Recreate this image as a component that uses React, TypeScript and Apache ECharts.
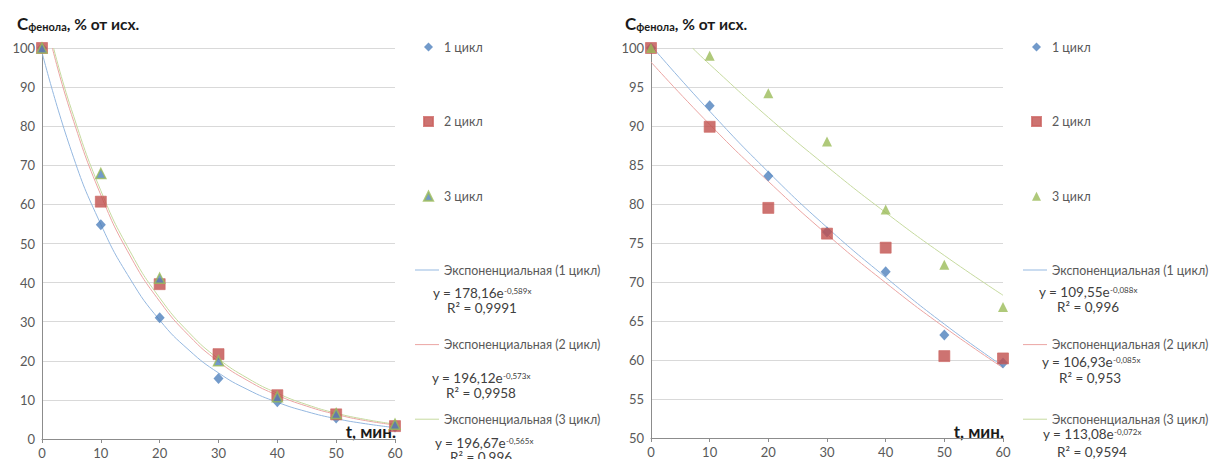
import React, { useEffect, useRef } from "react";
import * as echarts from "echarts";

// ---------- data ----------
const T = [0, 10, 20, 30, 40, 50, 60];
const SERIES_NAMES = ["1 цикл", "2 цикл", "3 цикл"];
const TREND_NAMES = ["Экспоненциальная (1 цикл)", "Экспоненциальная (2 цикл)", "Экспоненциальная (3 цикл)"];

// left chart measurements
const L_C1 = [100, 54.8, 31.0, 15.5, 9.5, 5.4, 3.1];
const L_C2 = [100, 60.7, 39.6, 21.7, 11.2, 6.3, 3.3];
const L_C3 = [100, 67.9, 41.1, 20.0, 10.8, 6.5, 3.8];
const L_TR1_T = [0, 5, 10, 15, 20, 25, 30, 35, 40, 45, 50, 55, 60];
const L_TR1_Y = [98.9, 73.6, 54.9, 40.9, 30.4, 22.7, 16.9, 12.6, 9.4, 7.0, 5.2, 3.9, 2.9];
const L_TR2_T = [1.76, 5, 10, 15, 20, 25, 30, 35, 40, 45, 50, 55, 60];
const L_TR2_Y = [100, 83.0, 62.4, 46.8, 35.2, 26.4, 19.8, 14.9, 11.2, 8.4, 6.3, 4.7, 3.6];
const L_TR3_T = [1.97, 5, 10, 15, 20, 25, 30, 35, 40, 45, 50, 55, 60];
const L_TR3_Y = [100, 84.3, 63.5, 47.9, 36.1, 27.2, 20.5, 15.5, 11.7, 8.8, 6.6, 5.0, 3.8];
const L_EQ = [
  ["y = 178,16e", "-0,589x", "R² = 0,9991"],
  ["y = 196,12e", "-0,573x", "R² = 0,9958"],
  ["y = 196,67e", "-0,565x", "R² = 0,996"],
];

// right chart measurements
const R_C1 = [100, 92.6, 83.6, 76.4, 71.3, 63.2, 59.6];
const R_C2 = [100, 89.9, 79.5, 76.2, 74.4, 60.5, 60.2];
const R_C3 = [100, 99.0, 94.2, 88.0, 79.3, 72.2, 66.8];
const R_TR1_T = [0.37, 10, 20, 30, 40, 50, 60];
const R_TR1_Y = [100, 91.9, 84.1, 77.0, 70.6, 64.6, 59.2];
const R_TR2_T = [0, 10, 20, 30, 40, 50, 60];
const R_TR2_Y = [98.2, 90.2, 82.9, 76.1, 69.9, 64.2, 59.0];
const R_TR3_T = [7.07, 10, 20, 30, 40, 50, 60];
const R_TR3_Y = [100, 97.9, 91.1, 84.8, 78.9, 73.4, 68.3];
const R_EQ = [
  ["y = 109,55e", "-0,088x", "R² = 0,996"],
  ["y = 106,93e", "-0,085x", "R² = 0,953"],
  ["y = 113,08e", "-0,072x", "R² = 0,9594"],
];

const X_NAME = "t, мин.";

// ---------- styling ----------
const FONT = 'Lato, "Open Sans", sans-serif';
const BLUE = "#4f81bd";
const RED = "#c0504d";
const GREEN = "#9bbb59";
const TR_BLUE = "#95b8e0";
const TR_RED = "#eba5a3";
const TR_GREEN = "#c6da9f";
const AXIS = "#8c8c8c";
const LABEL = "#595959";

type Cfg = {
  c: number[][];
  tr: [number[], number[]][];
  eq: string[][];
  yMin: number;
  yInterval: number;
  grid: { left: number; top: number; width: number; height: number };
  legendLeft: number;
  eqPos: [number, number, number, number][];
  xNamePos: [number, number];
  titleLeft: number;
  tri: { color: string; borderColor: string; borderWidth: number };
};

function pairs(xs: number[], ys: number[]) {
  return xs.map((x, i) => [x, ys[i]]);
}

function buildOption(cfg: Cfg): any {
  const markerStyles = [
    { symbol: "diamond", symbolSize: [10, 11], itemStyle: { color: BLUE } },
    { symbol: "rect", symbolSize: 11, itemStyle: { color: RED, borderColor: "#cc6461", borderWidth: 0.8 } },
    { symbol: "triangle", symbolSize: 10, itemStyle: cfg.tri },
  ];
  const trendColors = [TR_BLUE, TR_RED, TR_GREEN];
  const series: any[] = [];
  cfg.tr.forEach(([xs, ys], i) => {
    series.push({
      name: TREND_NAMES[i],
      type: "line",
      data: pairs(xs, ys),
      symbol: "none",
      showSymbol: false,
      smooth: 0.5,
      clip: true,
      silent: true,
      lineStyle: { color: trendColors[i], width: 1 },
      itemStyle: { color: trendColors[i] },
      z: 1,
    });
  });
  cfg.c.forEach((vals, i) => {
    series.push({
      name: SERIES_NAMES[i],
      type: "scatter",
      data: pairs(T, vals),
      symbol: markerStyles[i].symbol,
      symbolSize: markerStyles[i].symbolSize,
      itemStyle: markerStyles[i].itemStyle,
      clip: false,
      silent: true,
      z: 3 + i,
    });
  });

  const graphic: any[] = [];
  cfg.eq.forEach((e, i) => {
    const [ex, ey, rx, ry] = cfg.eqPos[i];
    graphic.push({
      type: "text",
      x: ex,
      y: ey,
      style: {
        text: `{a|${e[0]}}{b|${e[1]}}`,
        verticalAlign: "middle",
        fill: "#404040",
        rich: {
          a: { fontSize: 13.5, fontFamily: FONT, fill: "#404040", lineHeight: 13, verticalAlign: "bottom" },
          b: { fontSize: 8, fontFamily: FONT, fill: "#404040", lineHeight: 13, verticalAlign: "top" },
        },
      },
    });
    graphic.push({
      type: "text",
      x: rx,
      y: ry,
      style: { text: e[2], font: `13.5px ${FONT}`, fill: "#404040", verticalAlign: "middle" },
    });
  });
  graphic.push({
    type: "text",
    x: cfg.xNamePos[0],
    y: cfg.xNamePos[1],
    style: { text: X_NAME, font: `bold 17px ${FONT}`, fill: "#1a1a1a", align: "right", verticalAlign: "middle" },
  });

  const legendText = { color: LABEL, fontSize: 12.4, lineHeight: 12, fontFamily: FONT };

  return {
    animation: false,
    backgroundColor: "#ffffff",
    textStyle: { fontFamily: FONT },
    title: {
      text: "{c|С}{s|фенола}{n|, % от исх.}",
      left: cfg.titleLeft,
      top: 12,
      padding: 0,
      textStyle: {
        rich: {
          c: { fontSize: 17, fontWeight: "bold", color: "#1a1a1a", fontFamily: FONT, lineHeight: 20, verticalAlign: "bottom" },
          s: { fontSize: 11, fontWeight: "bold", color: "#1a1a1a", fontFamily: FONT, lineHeight: 17, verticalAlign: "bottom" },
          n: { fontSize: 15.5, fontWeight: "bold", color: "#1a1a1a", fontFamily: FONT, lineHeight: 20, verticalAlign: "bottom" },
        },
      },
    },
    grid: { ...cfg.grid, containLabel: false },
    xAxis: {
      type: "value",
      min: 0,
      max: 60,
      interval: 10,
      axisLine: { show: true, onZero: false, lineStyle: { color: AXIS, width: 1 } },
      axisTick: { show: true, length: 4, lineStyle: { color: AXIS } },
      axisLabel: { color: LABEL, fontSize: 13, margin: 7, fontFamily: FONT },
      splitLine: { show: false },
    },
    yAxis: {
      type: "value",
      min: cfg.yMin,
      max: 100,
      interval: cfg.yInterval,
      axisLine: { show: true, lineStyle: { color: AXIS, width: 1 } },
      axisTick: { show: false },
      axisLabel: { color: LABEL, fontSize: 13, margin: 7, fontFamily: FONT },
      splitLine: { show: true, lineStyle: { color: "#d9d9d9", width: 1 } },
    },
    legend: [
      {
        orient: "vertical",
        left: cfg.legendLeft + 8,
        top: 41,
        padding: 0,
        itemWidth: 9,
        itemHeight: 9,
        itemGap: 62.6,
        symbolKeepAspect: true,
        selectedMode: false,
        textStyle: { ...legendText, padding: [0, 0, 0, 6] },
        data: SERIES_NAMES,
      },
      {
        orient: "vertical",
        left: cfg.legendLeft,
        top: 264,
        padding: 0,
        itemWidth: 24,
        itemHeight: 1,
        itemGap: 62.6,
        selectedMode: false,
        icon: "rect",
        textStyle: legendText,
        data: TREND_NAMES,
      },
    ],
    series,
    graphic,
  };
}

const LEFT_CFG: Cfg = {
  c: [L_C1, L_C2, L_C3],
  tr: [
    [L_TR1_T, L_TR1_Y],
    [L_TR2_T, L_TR2_Y],
    [L_TR3_T, L_TR3_Y],
  ],
  eq: L_EQ,
  yMin: 0,
  yInterval: 10,
  grid: { left: 42, top: 48, width: 353, height: 391 },
  legendLeft: 415,
  eqPos: [
    [433, 293, 447, 308],
    [432, 378, 446, 393],
    [435, 443, 450, 457],
  ],
  xNamePos: [396, 431],
  titleLeft: 17,
  tri: { color: BLUE, borderColor: GREEN, borderWidth: 1.5 },
};

const RIGHT_CFG: Cfg = {
  c: [R_C1, R_C2, R_C3],
  tr: [
    [R_TR1_T, R_TR1_Y],
    [R_TR2_T, R_TR2_Y],
    [R_TR3_T, R_TR3_Y],
  ],
  eq: R_EQ,
  yMin: 50,
  yInterval: 5,
  grid: { left: 46, top: 48, width: 352, height: 390 },
  legendLeft: 418,
  eqPos: [
    [434, 292, 452, 307],
    [437, 362, 454, 378],
    [438, 434, 452, 452],
  ],
  xNamePos: [399, 431],
  titleLeft: 20,
  tri: { color: GREEN, borderColor: GREEN, borderWidth: 0 },
};

function Chart({ cfg, style }: { cfg: Cfg; style: React.CSSProperties }) {
  const ref = useRef<HTMLDivElement>(null);
  useEffect(() => {
    if (!ref.current) return;
    const chart = echarts.init(ref.current, undefined, { renderer: "svg" });
    chart.setOption(buildOption(cfg));
    return () => chart.dispose();
  }, [cfg]);
  return <div ref={ref} style={style} />;
}

export default function App() {
  return (
    <div style={{ position: "absolute", left: 0, top: 0, width: 1209, height: 459, background: "#fff", overflow: "hidden" }}>
      <Chart cfg={LEFT_CFG} style={{ position: "absolute", left: 0, top: 0, width: 605, height: 459 }} />
      <Chart cfg={RIGHT_CFG} style={{ position: "absolute", left: 605, top: 0, width: 604, height: 459 }} />
    </div>
  );
}
